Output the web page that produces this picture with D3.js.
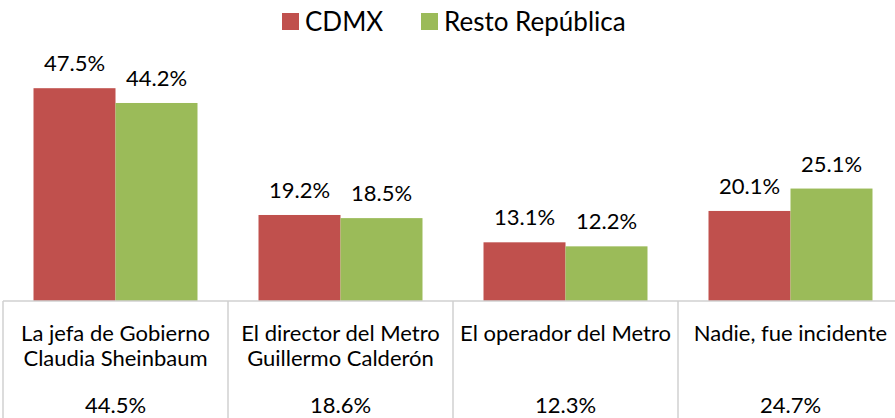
<!DOCTYPE html>
<html>
<head>
<meta charset="utf-8">
<style>
body { margin: 0; background: #fff; font-family: Lato, "Open Sans", sans-serif; }
.grid line { stroke: #d0d0d0; stroke-width: 1.5; }
.val { font-size: 22px; fill: #000; text-anchor: middle; }
.cat { font-size: 22px; fill: #000; text-anchor: middle; }
.legend text { font-size: 26px; fill: #000; }
</style>
<script src="https://d3js.org/d3.v7.min.js"></script>
</head>
<body>
<div id="chart"></div>
<script>
var categories = [
  ["La jefa de Gobierno", "Claudia Sheinbaum"],
  ["El director del Metro", "Guillermo Calderón"],
  ["El operador del Metro"],
  ["Nadie, fue incidente"]
];
var seriesNames = ["CDMX", "Resto República"];
var cdmx = [47.5, 19.2, 13.1, 20.1];
var resto = [44.2, 18.5, 12.2, 25.1];
var totals = ["44.5%", "18.6%", "12.3%", "24.7%"];
var colors = ["#c0504d", "#9bbb59"];

var width = 895, height = 418;
var baseY = 301;

var svg = d3.select("#chart").append("svg")
    .attr("width", width).attr("height", height);

var x0 = d3.scaleBand().domain(d3.range(categories.length)).range([3, 903]).paddingInner(0).paddingOuter(0);
var x1 = d3.scaleBand().domain(d3.range(seriesNames.length)).range([0, x0.bandwidth()]).paddingInner(0).paddingOuter(0.372);
var y = d3.scaleLinear().domain([0, 50]).range([baseY, baseY - 224]);

var series = [cdmx, resto];

// bars
categories.forEach(function(c, i) {
  var g = svg.append("g").attr("transform", "translate(" + x0(i) + ",0)");
  series.forEach(function(s, j) {
    g.append("rect")
      .attr("x", x1(j)).attr("width", x1.bandwidth())
      .attr("y", y(s[i])).attr("height", baseY - y(s[i]))
      .attr("fill", colors[j]);
    g.append("text").attr("class", "val")
      .attr("x", x1(j) + x1.bandwidth() / 2)
      .attr("y", y(s[i]) - 17)
      .text(s[i].toFixed(1) + "%");
  });
});

// table grid
var grid = svg.append("g").attr("class", "grid");
grid.append("line").attr("x1", 3).attr("x2", width).attr("y1", baseY).attr("y2", baseY);
d3.range(categories.length + 1).forEach(function(i) {
  var xx = i < categories.length ? x0(i) : 903;
  grid.append("line").attr("x1", xx).attr("x2", xx).attr("y1", baseY).attr("y2", height);
});

// table text
categories.forEach(function(c, i) {
  var cx = x0(i) + x0.bandwidth() / 2;
  c.forEach(function(line, k) {
    svg.append("text").attr("class", "cat")
      .attr("x", cx).attr("y", 341 + k * 25).text(line);
  });
  svg.append("text").attr("class", "cat")
    .attr("x", cx).attr("y", 413).text(totals[i]);
});

// legend
var legend = svg.append("g").attr("class", "legend");
var lx = [282, 421];
seriesNames.forEach(function(n, j) {
  legend.append("rect").attr("x", lx[j]).attr("y", 13).attr("width", 17).attr("height", 17).attr("fill", colors[j]);
  legend.append("text").attr("x", lx[j] + 23).attr("y", 31).text(n);
});
</script>
</body>
</html>
